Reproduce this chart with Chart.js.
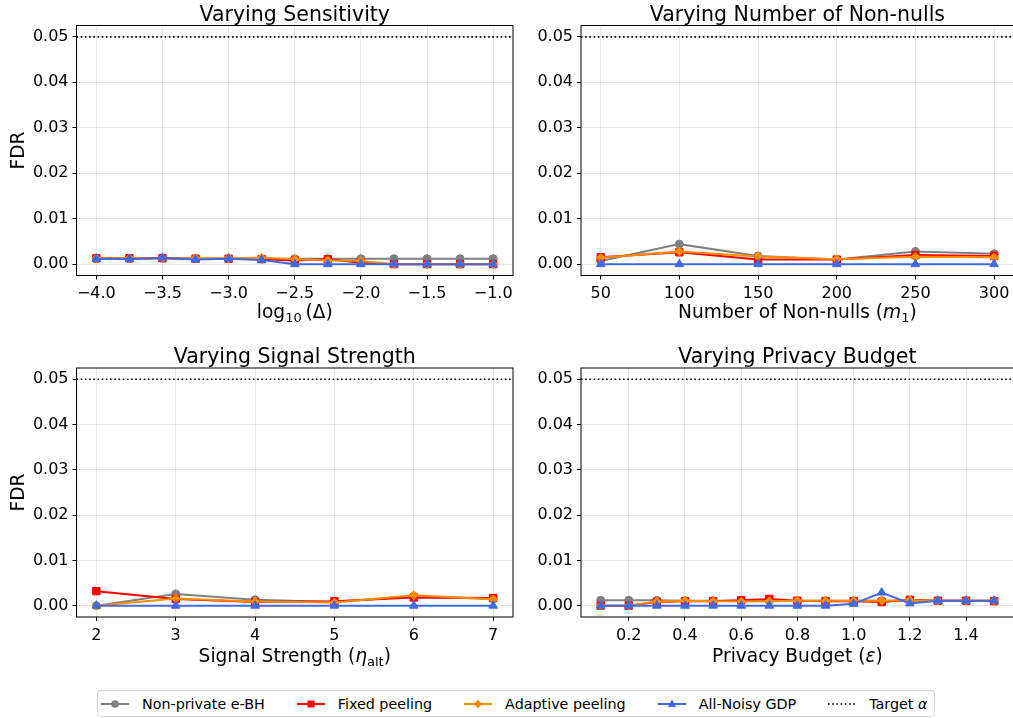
<!DOCTYPE html>
<html>
<head>
<meta charset="utf-8">
<script src="https://cdn.jsdelivr.net/npm/chart.js@4.4.0/dist/chart.umd.min.js"></script>
<style>
    html, body { margin: 0; padding: 0; background: #fff; overflow: hidden; width: 1013px; height: 718px; }
    canvas { position: absolute; }
    #legend {
        position: absolute; left: 97px; top: 690px; width: 838px; height: 27px;
        box-sizing: border-box; border: 1px solid #d4d4d4; border-radius: 4px;
        display: flex; align-items: center; padding-left: 3px;
        font-family: "DejaVu Sans"; font-size: 14.3px; color: #000; white-space: nowrap;
    }
    .item { display: flex; align-items: center; margin-right: 32px; flex-shrink: 0; }
    .item svg { margin-right: 13px; flex-shrink: 0; }
</style>
</head>
<body>
<canvas id="c1" width="520" height="335" style="left:0;top:0"></canvas>
<canvas id="c2" width="500" height="335" style="left:520px;top:0"></canvas>
<canvas id="c3" width="520" height="340" style="left:0;top:340px"></canvas>
<canvas id="c4" width="500" height="340" style="left:520px;top:340px"></canvas>
<div id="legend"></div>
<script>
// --- Datos ---
const methods = ["Non-private e-BH", "Fixed peeling", "Adaptive peeling", "All-Noisy GDP"];
const targetAlpha = 0.05;
const fdrTicks = [0, 0.01, 0.02, 0.03, 0.04, 0.05];

// Varying Sensitivity
const sensX = [-4, -3.75, -3.5, -3.25, -3, -2.75, -2.5, -2.25, -2, -1.75, -1.5, -1.25, -1];
const sensTicks = [-4, -3.5, -3, -2.5, -2, -1.5, -1];
const sensNonPrivate = [0.0012, 0.0012, 0.0013, 0.0012, 0.0012, 0.0012, 0.0012, 0.0012, 0.0012, 0.0012, 0.0012, 0.0012, 0.0012];
const sensFixed = [0.0013, 0.0013, 0.0013, 0.0012, 0.0012, 0.0011, 0.0008, 0.0011, 0.0003, 0, 0, 0, 0];
const sensAdaptive = [0.0013, 0.0013, 0.0013, 0.0013, 0.0013, 0.0014, 0.0011, 0.0008, 0.0007, 0, 0, 0, 0];
const sensAllNoisy = [0.0012, 0.0011, 0.0014, 0.001, 0.0012, 0.0009, 0, 0, 0, 0, 0, 0, 0];

// Varying Number of Non-nulls
const nnX = [50, 100, 150, 200, 250, 300];
const nnTicks = [50, 100, 150, 200, 250, 300];
const nnNonPrivate = [0.0007, 0.0044, 0.0018, 0.001, 0.0028, 0.0023];
const nnFixed = [0.0015, 0.0026, 0.001, 0.001, 0.002, 0.0018];
const nnAdaptive = [0.0014, 0.0028, 0.0017, 0.0011, 0.0016, 0.0015];
const nnAllNoisy = [0, 0, 0, 0, 0, 0];

// Varying Signal Strength
const sigX = [2, 3, 4, 5, 6, 7];
const sigTicks = [2, 3, 4, 5, 6, 7];
const sigNonPrivate = [0, 0.0026, 0.0013, 0.0008, 0.0021, 0.0015];
const sigFixed = [0.0032, 0.0015, 0.0008, 0.001, 0.0018, 0.0017];
const sigAdaptive = [0, 0.0016, 0.0009, 0.0007, 0.0023, 0.0014];
const sigAllNoisy = [0, 0, 0, 0, 0, 0];

// Varying Privacy Budget
const epsX = [0.1, 0.2, 0.3, 0.4, 0.5, 0.6, 0.7, 0.8, 0.9, 1.0, 1.1, 1.2, 1.3, 1.4, 1.5];
const epsTicks = [0.2, 0.4, 0.6, 0.8, 1.0, 1.2, 1.4];
const epsNonPrivate = [0.0012, 0.0012, 0.0012, 0.0011, 0.0011, 0.0011, 0.0011, 0.0011, 0.0011, 0.0011, 0.0011, 0.0011, 0.0011, 0.0011, 0.0011];
const epsFixed = [0, 0, 0.0008, 0.001, 0.001, 0.0012, 0.0015, 0.0011, 0.001, 0.001, 0.0008, 0.0013, 0.0011, 0.0011, 0.001];
const epsAdaptive = [0, 0, 0.0009, 0.0011, 0.001, 0.0009, 0.001, 0.0011, 0.0011, 0.0011, 0.0011, 0.0012, 0.0011, 0.0011, 0.0011];
const epsAllNoisy = [0, 0, 0, 0, 0, 0, 0, 0, 0, 0.0004, 0.0029, 0.0005, 0.0011, 0.0011, 0.0011];

// --- Estilos ---
const FONT = '"DejaVu Sans"';
const seriesStyle = [
    { color: "#808080", point: "circle", radius: 4 },
    { color: "#ff0000", point: "rect", radius: 5.2 },
    { color: "#ff8c00", point: "rectRot", radius: 4.4 },
    { color: "#4169e1", point: "triangle", radius: 5 },
];

const minus = (s) => s.replace("-", "\u2212");

// dibuja texto con cursiva y subíndices
function richText(ctx, parts, cx, y, size) {
    const fontFor = (p) => (p.it ? "italic " : "") + (p.sub ? size * 0.7 : size) + "px " + FONT;
    let total = 0;
    parts.forEach((p) => { ctx.font = fontFor(p); total += ctx.measureText(p.t).width; });
    let x = cx - total / 2;
    ctx.textAlign = "left";
    ctx.textBaseline = "alphabetic";
    parts.forEach((p) => {
        ctx.font = fontFor(p);
        ctx.fillText(p.t, x, p.sub ? y + size * 0.22 : y);
        x += ctx.measureText(p.t).width;
    });
}

const decoPlugin = {
    id: "deco",
    afterDatasetsDraw(chart, args, opts) {
        const { ctx, chartArea: a, scales } = chart;
        const yy = scales.y.getPixelForValue(targetAlpha);
        ctx.save();
        ctx.strokeStyle = "#000";
        ctx.lineWidth = 1.6;
        ctx.setLineDash([1.6, 2.6]);
        ctx.beginPath();
        ctx.moveTo(a.left, yy);
        ctx.lineTo(a.right, yy);
        ctx.stroke();
        ctx.restore();
    },
    afterDraw(chart, args, opts) {
        const { ctx, chartArea: a } = chart;
        ctx.save();
        ctx.strokeStyle = "#000";
        ctx.lineWidth = 1;
        ctx.strokeRect(a.left, a.top, a.right - a.left, a.bottom - a.top);
        ctx.fillStyle = "#000";
        ctx.font = "20.5px " + FONT;
        ctx.textAlign = "center";
        ctx.textBaseline = "alphabetic";
        ctx.fillText(opts.title, (a.left + a.right) / 2, a.top - 5);
        richText(ctx, opts.xlabel, (a.left + a.right) / 2, a.bottom + opts.labelGap, 18.6);
        ctx.restore();
    },
};

function makePanel(id, p) {
    const datasets = p.series.map((vals, i) => ({
        label: methods[i],
        data: p.x.map((xv, j) => ({ x: xv, y: vals[j] })),
        borderColor: seriesStyle[i].color,
        backgroundColor: seriesStyle[i].color,
        pointBackgroundColor: seriesStyle[i].color,
        pointBorderColor: seriesStyle[i].color,
        pointStyle: seriesStyle[i].point,
        pointRadius: seriesStyle[i].radius,
        pointBorderWidth: 1,
        borderWidth: 2,
        tension: 0,
        order: 4 - i, // el primero se dibuja debajo
    }));
    const grid = { color: "rgba(176,176,176,0.3)", tickColor: "#000", tickLength: 4, lineWidth: 1 };
    new Chart(document.getElementById(id), {
        type: "line",
        data: { datasets },
        plugins: [decoPlugin],
        options: {
            responsive: false,
            animation: false,
            layout: { padding: { top: p.top, right: p.right, left: 0, bottom: 0 } },
            scales: {
                x: {
                    type: "linear",
                    min: p.xmin,
                    max: p.xmax,
                    afterBuildTicks: (s) => { s.ticks = p.ticks.map((v) => ({ value: v })); },
                    afterFit: (s) => { s.height = p.xh; },
                    ticks: { font: { family: FONT, size: 16 }, color: "#000", padding: 5, maxRotation: 0, autoSkip: false, callback: p.fmt },
                    grid,
                    border: { display: false },
                },
                y: {
                    min: -0.0025,
                    max: 0.0525,
                    afterBuildTicks: (s) => { s.ticks = fdrTicks.map((v) => ({ value: v })); },
                    afterFit: (s) => { s.width = p.yw; },
                    ticks: { font: { family: FONT, size: 16 }, color: "#000", padding: 4, callback: (v) => v.toFixed(2) },
                    grid,
                    border: { display: false },
                    title: { display: p.fdr, text: "FDR", color: "#000", font: { family: FONT, size: 18.6 }, padding: { top: 8, bottom: 0 } },
                },
            },
            plugins: {
                legend: { display: false },
                tooltip: { enabled: false },
                deco: { title: p.title, xlabel: p.xlabel, labelGap: p.labelGap },
            },
        },
    });
}

makePanel("c1", {
    x: sensX, series: [sensNonPrivate, sensFixed, sensAdaptive, sensAllNoisy], ticks: sensTicks,
    xmin: -4.15, xmax: -0.85, fmt: (v) => minus(v.toFixed(1)),
    top: 25.5, right: 7, yw: 76.5, xh: 59.5, fdr: true, labelGap: 42,
    title: "Varying Sensitivity",
    xlabel: [{ t: "log" }, { t: "10", sub: true }, { t: "\u2009(\u0394)" }],
});
makePanel("c2", {
    x: nnX, series: [nnNonPrivate, nnFixed, nnAdaptive, nnAllNoisy], ticks: nnTicks,
    xmin: 37.5, xmax: 312.5, fmt: (v) => String(v),
    top: 25.5, right: 2.5, yw: 61, xh: 59.5, fdr: false, labelGap: 42,
    title: "Varying Number of Non-nulls",
    xlabel: [{ t: "Number of Non-nulls (" }, { t: "m", it: true }, { t: "1", sub: true }, { t: ")" }],
});
makePanel("c3", {
    x: sigX, series: [sigNonPrivate, sigFixed, sigAdaptive, sigAllNoisy], ticks: sigTicks,
    xmin: 1.75, xmax: 7.25, fmt: (v) => String(v),
    top: 28, right: 7, yw: 76.5, xh: 63, fdr: true, labelGap: 45,
    title: "Varying Signal Strength",
    xlabel: [{ t: "Signal Strength (" }, { t: "\u03b7", it: true }, { t: "alt", sub: true }, { t: ")" }],
});
makePanel("c4", {
    x: epsX, series: [epsNonPrivate, epsFixed, epsAdaptive, epsAllNoisy], ticks: epsTicks,
    xmin: 0.03, xmax: 1.57, fmt: (v) => v.toFixed(1),
    top: 28, right: 2.5, yw: 61, xh: 63, fdr: false, labelGap: 45,
    title: "Varying Privacy Budget",
    xlabel: [{ t: "Privacy Budget (" }, { t: "\u03b5", it: true }, { t: ")" }],
});

// --- Leyenda común ---
function handleSvg(i) {
    const s = seriesStyle[i];
    let mark = "";
    if (s.point === "circle") mark = `<circle cx="14" cy="8" r="3.8" fill="${s.color}"/>`;
    if (s.point === "rect") mark = `<rect x="10.5" y="4.5" width="7" height="7" fill="${s.color}"/>`;
    if (s.point === "rectRot") mark = `<polygon points="14,3.8 18.2,8 14,12.2 9.8,8" fill="${s.color}"/>`;
    if (s.point === "triangle") mark = `<polygon points="14,3.5 18.2,11 9.8,11" fill="${s.color}"/>`;
    return `<svg width="28" height="16"><line x1="0" y1="8" x2="28" y2="8" stroke="${s.color}" stroke-width="2"/>${mark}</svg>`;
}
const legend = document.getElementById("legend");
methods.forEach((m, i) => {
    legend.insertAdjacentHTML("beforeend", `<div class="item">${handleSvg(i)}<span>${m}</span></div>`);
});
legend.insertAdjacentHTML("beforeend",
    `<div class="item"><svg width="28" height="16"><line x1="0" y1="8" x2="28" y2="8" stroke="#000" stroke-width="1.6" stroke-dasharray="1.6 2.6"/></svg><span>Target <i>\u03b1</i></span></div>`);
</script>
</body>
</html>
